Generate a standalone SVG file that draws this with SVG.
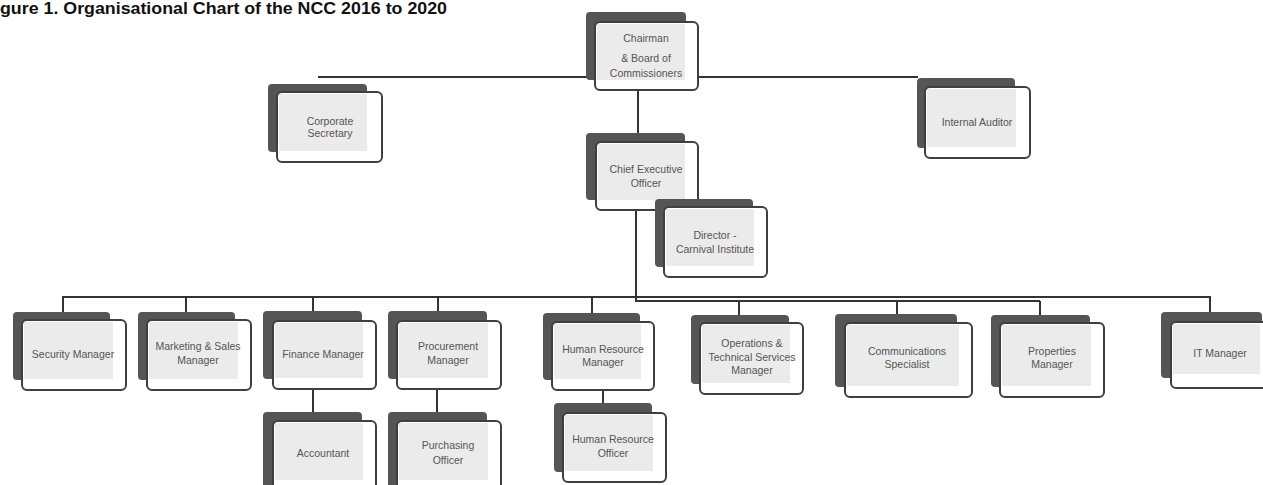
<svg xmlns="http://www.w3.org/2000/svg" width="1263" height="485" viewBox="0 0 1263 485">
<style>
.bk{fill:#555555;}
.fr{fill:#ffffff;stroke:#3f3f3f;stroke-width:2;}
.in{fill:#ebebeb;}
.t{font-family:"Liberation Sans",Arial,sans-serif;font-size:10.5px;fill:#555555;text-anchor:middle;}
.ln{stroke:#333333;stroke-width:2;fill:none;}
.title{font-family:"Liberation Sans",Arial,sans-serif;font-weight:bold;font-size:17px;fill:#111111;}
</style>
<rect width="1263" height="485" fill="#ffffff"/>
<text class="title" x="0" y="14" textLength="447" lengthAdjust="spacingAndGlyphs">gure 1. Organisational Chart of the NCC 2016 to 2020</text>
<g id="connectors">
<line class="ln" x1="318" y1="77" x2="918" y2="77"/>
<line class="ln" x1="638" y1="90" x2="638" y2="142"/>
<line class="ln" x1="636" y1="210" x2="636" y2="302"/>
<line class="ln" x1="62" y1="297" x2="1211" y2="297"/>
<line class="ln" x1="636" y1="301" x2="1040" y2="301"/>
<line class="ln" x1="63" y1="297" x2="63" y2="312"/>
<line class="ln" x1="186" y1="297" x2="186" y2="312"/>
<line class="ln" x1="313" y1="297" x2="313" y2="311"/>
<line class="ln" x1="438" y1="297" x2="438" y2="311"/>
<line class="ln" x1="592" y1="297" x2="592" y2="313"/>
<line class="ln" x1="739" y1="301" x2="739" y2="315"/>
<line class="ln" x1="897" y1="301" x2="897" y2="314"/>
<line class="ln" x1="1040" y1="301" x2="1040" y2="315"/>
<line class="ln" x1="1210" y1="296" x2="1210" y2="312"/>
<line class="ln" x1="313" y1="389" x2="313" y2="412"/>
<line class="ln" x1="437" y1="389" x2="437" y2="412"/>
<line class="ln" x1="603" y1="390" x2="603" y2="403"/>
</g>
<g id="chairman">
<rect class="bk" x="586" y="12" width="100" height="68" rx="4"/>
<rect class="fr" x="595" y="22" width="103" height="68" rx="5"/>
<rect class="in" x="597" y="24" width="88" height="56"/>
<text class="t" x="646" y="42">Chairman</text>
<text class="t" x="646" y="62">&amp; Board of</text>
<text class="t" x="646" y="77">Commissioners</text>
</g>
<g id="corporate-secretary">
<rect class="bk" x="268" y="84" width="99" height="68" rx="4"/>
<rect class="fr" x="277" y="92" width="105" height="70" rx="5"/>
<rect class="in" x="279" y="94" width="88" height="57"/>
<text class="t" x="330" y="125">Corporate</text>
<text class="t" x="330" y="137">Secretary</text>
</g>
<g id="internal-auditor">
<rect class="bk" x="917" y="78" width="98" height="70" rx="4"/>
<rect class="fr" x="925" y="87" width="105" height="71" rx="5"/>
<rect class="in" x="927" y="89" width="89" height="58"/>
<text class="t" x="977" y="126">Internal Auditor</text>
</g>
<g id="ceo">
<rect class="bk" x="586" y="133" width="99" height="67" rx="4"/>
<rect class="fr" x="596" y="142" width="102" height="68" rx="5"/>
<rect class="in" x="598" y="144" width="87" height="56"/>
<text class="t" x="646" y="173">Chief Executive</text>
<text class="t" x="646" y="187">Officer</text>
</g>
<g id="director">
<rect class="bk" x="655" y="199" width="98" height="68" rx="4"/>
<rect class="fr" x="664" y="207" width="103" height="70" rx="5"/>
<rect class="in" x="666" y="209" width="88" height="57"/>
<text class="t" x="715" y="239">Director  -</text>
<text class="t" x="715" y="253">Carnival Institute</text>
</g>
<g id="security-manager">
<rect class="bk" x="13" y="312" width="97" height="68" rx="4"/>
<rect class="fr" x="22" y="320" width="104" height="70" rx="5"/>
<rect class="in" x="24" y="322" width="89" height="57"/>
<text class="t" x="73" y="358">Security Manager</text>
</g>
<g id="marketing-sales-manager">
<rect class="bk" x="138" y="312" width="97" height="68" rx="4"/>
<rect class="fr" x="147" y="320" width="104" height="70" rx="5"/>
<rect class="in" x="149" y="322" width="89" height="57"/>
<text class="t" x="198" y="350">Marketing &amp; Sales</text>
<text class="t" x="198" y="364">Manager</text>
</g>
<g id="finance-manager">
<rect class="bk" x="263" y="311" width="99" height="68" rx="4"/>
<rect class="fr" x="273" y="321" width="103" height="68" rx="5"/>
<rect class="in" x="275" y="323" width="88" height="55"/>
<text class="t" x="323" y="358">Finance Manager</text>
</g>
<g id="procurement-manager">
<rect class="bk" x="388" y="311" width="99" height="68" rx="4"/>
<rect class="fr" x="397" y="321" width="104" height="68" rx="5"/>
<rect class="in" x="399" y="323" width="89" height="55"/>
<text class="t" x="448" y="350">Procurement</text>
<text class="t" x="448" y="364">Manager</text>
</g>
<g id="hr-manager">
<rect class="bk" x="543" y="313" width="97" height="67" rx="4"/>
<rect class="fr" x="552" y="322" width="102" height="68" rx="5"/>
<rect class="in" x="554" y="324" width="87" height="55"/>
<text class="t" x="603" y="353">Human Resource</text>
<text class="t" x="603" y="366">Manager</text>
</g>
<g id="operations-manager">
<rect class="bk" x="691" y="315" width="98" height="69" rx="4"/>
<rect class="fr" x="700" y="323" width="103" height="71" rx="5"/>
<rect class="in" x="702" y="325" width="88" height="58"/>
<text class="t" x="752" y="347">Operations &amp;</text>
<text class="t" x="752" y="361">Technical Services</text>
<text class="t" x="752" y="374">Manager</text>
</g>
<g id="communications-specialist">
<rect class="bk" x="835" y="314" width="122" height="73" rx="4"/>
<rect class="fr" x="845" y="323" width="127" height="74" rx="5"/>
<rect class="in" x="847" y="325" width="112" height="61"/>
<text class="t" x="907" y="355">Communications</text>
<text class="t" x="907" y="368">Specialist</text>
</g>
<g id="properties-manager">
<rect class="bk" x="991" y="315" width="99" height="72" rx="4"/>
<rect class="fr" x="1000" y="323" width="104" height="74" rx="5"/>
<rect class="in" x="1002" y="325" width="89" height="61"/>
<text class="t" x="1052" y="355">Properties</text>
<text class="t" x="1052" y="368">Manager</text>
</g>
<g id="it-manager">
<rect class="bk" x="1161" y="312" width="101" height="66" rx="4"/>
<rect class="fr" x="1171" y="322" width="96" height="66" rx="5"/>
<rect class="in" x="1173" y="324" width="87" height="50"/>
<text class="t" x="1220" y="357">IT Manager</text>
</g>
<g id="accountant">
<rect class="bk" x="263" y="412" width="99" height="80" rx="4"/>
<rect class="fr" x="273" y="421" width="103" height="70" rx="5"/>
<rect class="in" x="275" y="423" width="88" height="57"/>
<text class="t" x="323" y="457">Accountant</text>
</g>
<g id="purchasing-officer">
<rect class="bk" x="388" y="412" width="99" height="80" rx="4"/>
<rect class="fr" x="397" y="421" width="104" height="70" rx="5"/>
<rect class="in" x="399" y="423" width="89" height="57"/>
<text class="t" x="448" y="449">Purchasing</text>
<text class="t" x="448" y="464">Officer</text>
</g>
<g id="hr-officer">
<rect class="bk" x="554" y="403" width="98" height="69" rx="4"/>
<rect class="fr" x="563" y="413" width="103" height="69" rx="5"/>
<rect class="in" x="565" y="415" width="88" height="56"/>
<text class="t" x="613" y="443">Human Resource</text>
<text class="t" x="613" y="457">Officer</text>
</g>
</svg>
